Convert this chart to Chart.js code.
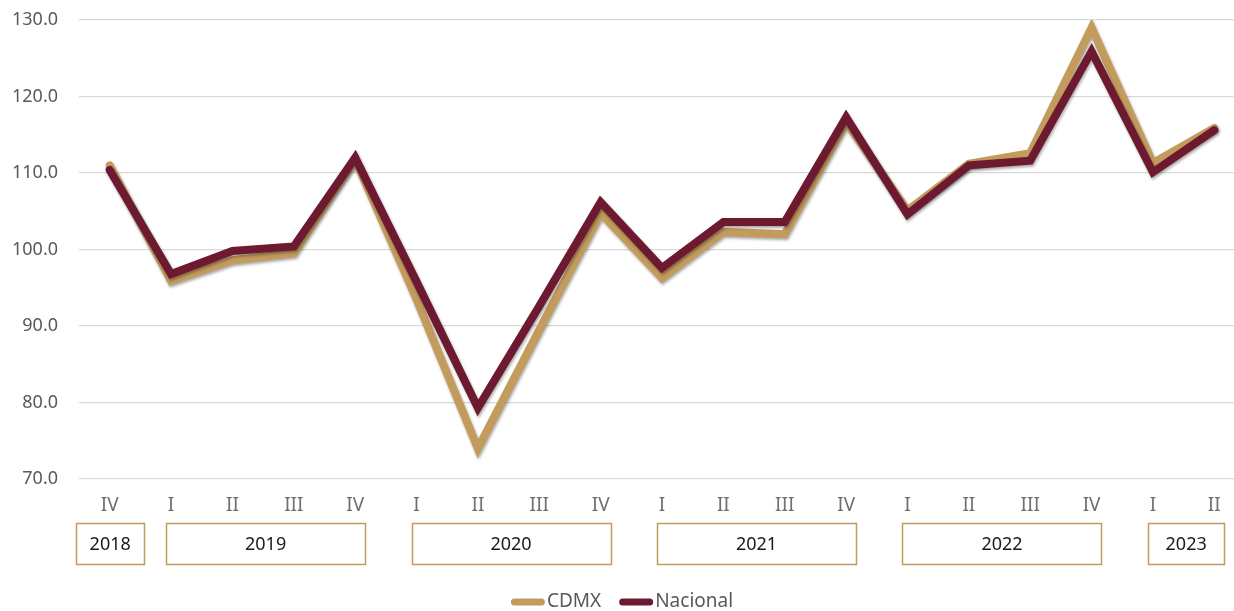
<!DOCTYPE html>
<html>
<head>
<meta charset="utf-8">
<script src="https://cdn.jsdelivr.net/npm/chart.js@4.4.0/dist/chart.umd.min.js"></script>
<style>
  html, body { margin: 0; padding: 0; background: #ffffff; overflow: hidden; }
  #wrap { position: relative; width: 1245px; height: 611px; }
</style>
</head>
<body>
<div id="wrap"><canvas id="c"></canvas></div>
<script>
const quarters = ['IV','I','II','III','IV','I','II','III','IV','I','II','III','IV','I','II','III','IV','I','II'];
const years = ['2018','2019','2020','2021','2022','2023'];
const quartersPerYear = [1, 4, 4, 4, 4, 2];
const cdmx = [111.0, 95.9, 98.6, 99.5, 111.8, 93.5, 74.0, 89.5, 104.8, 96.3, 102.3, 102.0, 116.7, 105.1, 111.2, 112.6, 129.0, 111.3, 115.9];
const nacional = [110.4, 96.8, 99.8, 100.4, 112.0, 95.8, 79.3, 92.6, 106.2, 97.6, 103.6, 103.6, 117.3, 104.6, 111.0, 111.6, 125.9, 110.1, 115.6];
const yTicks = [70, 80, 90, 100, 110, 120, 130];

const GOLD = '#C39B5C';
const MAROON = '#6D1A31';
const FONT = '"Noto Sans", "DejaVu Sans", sans-serif';

const shadowPlugin = {
  id: 'lineShadow',
  beforeDatasetDraw(chart) {
    const ctx = chart.ctx;
    ctx.save();
    ctx.shadowColor = 'rgba(0,0,0,0.35)';
    ctx.shadowBlur = 3;
    ctx.shadowOffsetX = 1;
    ctx.shadowOffsetY = 2;
  },
  afterDatasetDraw(chart) {
    chart.ctx.restore();
  }
};

const yearBoxPlugin = {
  id: 'yearBoxes',
  afterDraw(chart) {
    const ctx = chart.ctx;
    const xs = chart.scales.x;
    let idx = 0;
    ctx.save();
    years.forEach((yr, i) => {
      const n = quartersPerYear[i];
      const x1 = xs.getPixelForValue(idx);
      const x2 = xs.getPixelForValue(idx + n - 1);
      let left = x1 - 5, right = x2 + 10;
      const minW = 68;
      if (right - left < minW) {
        const c = (x1 + x2) / 2 + 0.5;
        left = c - minW / 2; right = c + minW / 2;
      }
      ctx.strokeStyle = GOLD;
      ctx.lineWidth = 1.5;
      ctx.strokeRect(Math.round(left) + 0.5, 523.5, Math.round(right - left), 41);
      ctx.fillStyle = '#1a1a1a';
      ctx.font = '18px ' + FONT;
      ctx.textAlign = 'center';
      ctx.textBaseline = 'middle';
      ctx.fillText(yr, (left + right) / 2, 545);
      idx += n;
    });
    ctx.restore();
  }
};

const legendPlugin = {
  id: 'customLegend',
  afterDraw(chart) {
    const ctx = chart.ctx;
    ctx.save();
    ctx.font = '19px ' + FONT;
    ctx.textBaseline = 'middle';
    ctx.textAlign = 'left';
    const items = [chart.data.datasets[1], chart.data.datasets[0]];
    const boxW = 34, gap = 2, itemGap = 18;
    let total = 0;
    items.forEach((d, i) => {
      total += boxW + gap + ctx.measureText(d.label).width;
      if (i < items.length - 1) total += itemGap;
    });
    let x = 622 - total / 2;
    const y = 602;
    items.forEach(d => {
      ctx.strokeStyle = d.borderColor;
      ctx.lineWidth = 7;
      ctx.lineCap = 'round';
      ctx.beginPath();
      ctx.moveTo(x + 3.5, y);
      ctx.lineTo(x + boxW - 3.5, y);
      ctx.stroke();
      x += boxW + gap;
      ctx.fillStyle = '#595959';
      ctx.fillText(d.label, x, y);
      x += ctx.measureText(d.label).width + itemGap;
    });
    ctx.restore();
  }
};

new Chart(document.getElementById('c'), {
  type: 'line',
  data: {
    labels: quarters,
    datasets: [
      {
        label: 'Nacional',
        data: nacional,
        borderColor: MAROON,
        backgroundColor: MAROON,
        borderWidth: 8,
        pointRadius: 0,
        borderJoinStyle: 'miter',
        borderCapStyle: 'round',
        tension: 0
      },
      {
        label: 'CDMX',
        data: cdmx,
        borderColor: GOLD,
        backgroundColor: GOLD,
        borderWidth: 8,
        pointRadius: 0,
        borderJoinStyle: 'miter',
        borderCapStyle: 'round',
        tension: 0
      }
    ]
  },
  options: {
    responsive: true,
    maintainAspectRatio: false,
    animation: false,
    layout: { padding: { top: 20, right: 0, bottom: 0, left: 0 } },
    plugins: {
      legend: { display: false },
      tooltip: { enabled: false },
      title: { display: false }
    },
    scales: {
      x: {
        type: 'category',
        offset: true,
        grid: { display: false, drawTicks: false },
        border: { display: false },
        ticks: {
          color: '#707070',
          font: { family: FONT, size: 19 },
          padding: 15,
          maxRotation: 0,
          autoSkip: false
        },
        afterFit(scale) { scale.height = 132; scale.paddingLeft = 0; scale.paddingRight = 0; }
      },
      y: {
        min: 70,
        max: 130,
        afterBuildTicks(scale) { scale.ticks = yTicks.map(v => ({ value: v })); },
        grid: { color: '#d9d9d9', lineWidth: 1.3, drawTicks: false },
        border: { display: false },
        ticks: {
          color: '#595959',
          font: { family: FONT, size: 18 },
          padding: 21,
          callback: v => Number(v).toFixed(1)
        },
        afterFit(scale) { scale.width = 79; scale.paddingTop = 0; scale.paddingBottom = 0; }
      }
    }
  },
  plugins: [shadowPlugin, yearBoxPlugin, legendPlugin]
});
</script>
</body>
</html>
